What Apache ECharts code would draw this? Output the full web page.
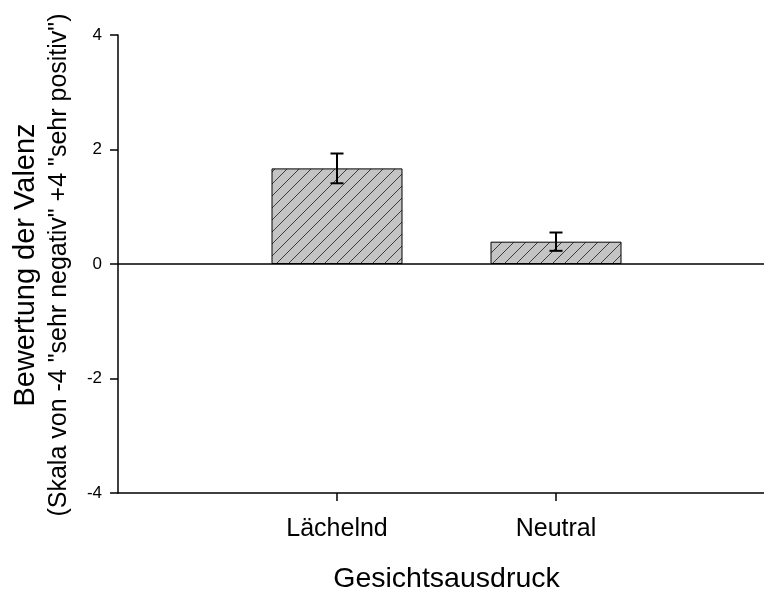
<!DOCTYPE html>
<html>
<head>
<meta charset="utf-8">
<script src="https://cdn.jsdelivr.net/npm/echarts@6/dist/echarts.min.js"></script>
<style>
  html, body { margin: 0; padding: 0; background: #ffffff; overflow: hidden; }
  #chart { width: 764px; height: 589px; }
</style>
</head>
<body>
<div id="chart"></div>
<script>
// Mean valence ratings per facial expression, with standard errors
const categories = ['Lächelnd', 'Neutral'];
const meanValues = [1.67, 0.39];
const errorValues = [0.26, 0.16];
const yTicks = [-4, -2, 0, 2, 4];

const FONT = "'Liberation Sans', Arial, sans-serif";

// Empty slots on either side give the two bars room at the axis ends
const axisCategories = [''].concat(categories, ['']);
const barData = ['-'].concat(meanValues, ['-']);
const errorData = categories.map((c, i) => [i + 1, meanValues[i] - errorValues[i], meanValues[i] + errorValues[i]]);

// Grey fill with thin diagonal hatching
function hatchPattern() {
  const s = 12;
  const c = document.createElement('canvas');
  c.width = s; c.height = s;
  const g = c.getContext('2d');
  g.fillStyle = '#c4c4c4';
  g.fillRect(0, 0, s, s);
  g.strokeStyle = '#3c3c3c';
  g.lineWidth = 1;
  g.beginPath();
  g.moveTo(-1, s + 1); g.lineTo(s + 1, -1);
  g.moveTo(-1, 1); g.lineTo(1, -1);
  g.moveTo(s - 1, s + 1); g.lineTo(s + 1, s - 1);
  g.stroke();
  return c;
}

const chart = echarts.init(document.getElementById('chart'), null, { renderer: 'canvas' });

chart.setOption({
  animation: false,
  backgroundColor: '#ffffff',
  grid: { left: 118, right: -11, top: 35, bottom: 96, containLabel: false, outerBoundsMode: 'none' },
  xAxis: {
    type: 'category',
    data: axisCategories,
    boundaryGap: false,
    name: 'Gesichtsausdruck',
    nameLocation: 'middle',
    nameGap: 72,
    nameTextStyle: { fontFamily: FONT, fontSize: 28.5, color: '#000', lineHeight: 28 },
    axisLine: { show: true, onZero: false, lineStyle: { color: '#000', width: 1.5 } },
    axisTick: { show: true, length: 8, lineStyle: { color: '#000', width: 1.5 },
                interval: (idx, val) => val !== '' },
    axisLabel: { interval: 0, margin: 24, fontFamily: FONT, fontSize: 25, color: '#000',
                 lineHeight: 25, verticalAlign: 'top' },
    splitLine: { show: false }
  },
  yAxis: {
    type: 'value',
    min: yTicks[0],
    max: yTicks[yTicks.length - 1],
    interval: 2,
    axisLine: { show: true, onZero: false, lineStyle: { color: '#000', width: 1.5 } },
    axisTick: { show: true, length: 8, lineStyle: { color: '#000', width: 1.5 } },
    axisLabel: { margin: 16, fontFamily: FONT, fontSize: 17, color: '#000' },
    splitLine: { show: false }
  },
  graphic: [
    {
      type: 'text', x: 26, y: 265, rotation: Math.PI / 2,
      style: { text: 'Bewertung der Valenz', font: '29px ' + FONT, fill: '#000',
               align: 'center', verticalAlign: 'middle' }
    },
    {
      type: 'text', x: 59, y: 265, rotation: Math.PI / 2,
      style: { text: '(Skala von -4 "sehr negativ" +4 "sehr positiv")', font: '25px ' + FONT,
               fill: '#000', align: 'center', verticalAlign: 'middle' }
    }
  ],
  series: [
    {
      type: 'bar',
      data: barData,
      barWidth: 131,
      itemStyle: {
        color: { image: hatchPattern(), repeat: 'repeat' },
        borderColor: '#000',
        borderWidth: 1
      },
      markLine: {
        silent: true,
        symbol: ['none', 'none'],
        label: { show: false },
        lineStyle: { color: '#000', width: 1.5, type: 'solid' },
        data: [{ yAxis: 0 }]
      },
      z: 2
    },
    {
      type: 'custom',
      data: errorData,
      z: 5,
      renderItem: function (params, api) {
        const x = api.value(0);
        const lo = api.coord([x, api.value(1)]);
        const hi = api.coord([x, api.value(2)]);
        const cap = 6.5;
        const style = { stroke: '#000', lineWidth: 2 };
        return {
          type: 'group',
          children: [
            { type: 'line', shape: { x1: lo[0], y1: lo[1], x2: hi[0], y2: hi[1] }, style },
            { type: 'line', shape: { x1: hi[0] - cap, y1: hi[1], x2: hi[0] + cap, y2: hi[1] }, style },
            { type: 'line', shape: { x1: lo[0] - cap, y1: lo[1], x2: lo[0] + cap, y2: lo[1] }, style }
          ]
        };
      }
    }
  ]
});
</script>
</body>
</html>
